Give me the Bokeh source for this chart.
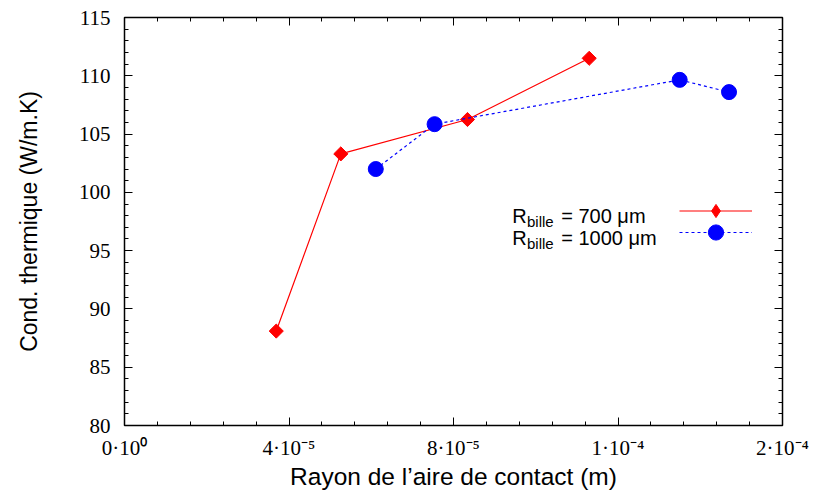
import numpy as np
from bokeh.plotting import figure
from bokeh.models import (FixedTicker, LinearAxis, Legend, LegendItem, Label, Range1d,
                          CustomLabelingPolicy)
from bokeh.core.properties import value
from bokeh.embed import file_html
from bokeh.resources import INLINE

# ---- data ----
r700_x = [3.69e-5, 5.26e-5, 8.34e-5, 11.30e-5]
r700_y = [88.1, 103.3, 106.25, 111.5]
r1000_x = [6.11e-5, 7.54e-5, 13.50e-5, 14.70e-5]
r1000_y = [102.0, 105.85, 109.65, 108.6]

x_ticks = [0.0, 4e-5, 8e-5, 1.2e-4, 1.6e-4]
x_tick_labels = ["0·10⁰", "4·10⁻⁵", "8·10⁻⁵", "1·10⁻⁴", "2·10⁻⁴"]
x_minor = [i * 8e-6 for i in range(21)]
y_ticks = [80, 85, 90, 95, 100, 105, 110, 115]
y_minor = list(range(80, 116))

series_names = ["700", "1000"]

p = figure(width=816, height=495, output_backend="svg", toolbar_location=None,
           x_range=Range1d(0, 1.6e-4), y_range=Range1d(80, 115),
           min_border_left=124, min_border_right=34, min_border_top=17, min_border_bottom=70)
p.background_fill_color = "white"
p.border_fill_color = "white"
p.outline_line_color = "black"
p.outline_line_width = 1.5
p.xgrid.visible = False
p.ygrid.visible = False

xt = FixedTicker(ticks=x_ticks, minor_ticks=x_minor)
yt = FixedTicker(ticks=y_ticks, minor_ticks=y_minor)

def style_axis(ax, labels=True):
    ax.axis_line_color = None
    ax.major_tick_in = 8
    ax.major_tick_out = 0
    ax.minor_tick_in = 4
    ax.minor_tick_out = 0
    ax.major_tick_line_color = "black"
    ax.minor_tick_line_color = "black"
    if labels:
        ax.major_label_text_font = "Liberation Serif"
        ax.major_label_text_font_size = "21px"
        ax.major_label_text_color = "black"
        ax.axis_label_text_font = "Liberation Sans"
        ax.axis_label_text_font_style = "normal"
        ax.axis_label_text_color = "black"
    else:
        ax.major_label_text_font_size = "0px"
        ax.major_label_standoff = 0
        ax.major_label_policy = CustomLabelingPolicy(
            code="for (let k = 0; k < indices.size; k++) { indices.unset(k) }\nreturn indices")

xa = p.xaxis[0]
xa.ticker = xt
xa.major_label_overrides = dict(zip(x_ticks, x_tick_labels))
xa.axis_label = "Rayon de l’aire de contact (m)"
style_axis(xa)
xa.axis_label_text_font_size = "24.5px"
xa.major_label_standoff = 10
xa.axis_label_standoff = 0

ya = p.yaxis[0]
ya.ticker = yt
ya.axis_label = "Cond. thermique (W/m.K)"
style_axis(ya)
ya.axis_label_text_font_size = "23px"
ya.major_label_standoff = 14
ya.axis_label_standoff = 34

top = LinearAxis(ticker=xt)
style_axis(top, labels=False)
p.add_layout(top, "above")
right = LinearAxis(ticker=yt)
style_axis(right, labels=False)
p.add_layout(right, "right")

# ---- series ----
l1 = p.line(r700_x, r700_y, line_color="#ff0000", line_width=1.2)
s1 = p.scatter(r700_x, r700_y, marker="square", angle=np.pi / 4, size=10,
               fill_color="#ff0000", line_color="#ff0000")
l2 = p.line(r1000_x, r1000_y, line_color="#0000ff", line_width=1.2, line_dash="3 3")
s2 = p.scatter(r1000_x, r1000_y, marker="circle", size=15,
               fill_color="#0000ff", line_color="#0000ff")
# hidden legend-only twin of the red markers (legend glyphs are never rotated)
s1_key = p.scatter(r700_x, r700_y, marker="diamond", size=10, visible=False,
                   fill_color="#ff0000", line_color="#ff0000")

# ---- legend (text on the left, samples on the right, as in the original) ----
def make_legend(renderers, gh, loc):
    return Legend(items=[LegendItem(label=value(""), renderers=renderers)],
                  location=loc, glyph_width=73, glyph_height=gh, padding=0, margin=0,
                  spacing=0, label_standoff=0, label_width=0, label_height=0,
                  border_line_color=None, background_fill_alpha=0)

p.add_layout(make_legend([l1, s1_key], 33, (555, 198.5)))
p.add_layout(make_legend([l2, s2], 38, (555, 174)))

rows = [(209.3, 204.5), (187.3, 182.5)]
for name, (yb, ys) in zip(series_names, rows):
    p.add_layout(Label(x=387.7, y=yb, x_units="screen", y_units="screen", text="R",
                       text_font="Liberation Sans", text_font_size="20px",
                       text_baseline="alphabetic", text_color="black"))
    p.add_layout(Label(x=402.5, y=ys, x_units="screen", y_units="screen", text="bille",
                       text_font="Liberation Sans", text_font_size="15px",
                       text_baseline="alphabetic", text_color="black"))
    p.add_layout(Label(x=436.7, y=yb, x_units="screen", y_units="screen",
                       text="= " + name + " μm",
                       text_font="Liberation Sans", text_font_size="20px",
                       text_baseline="alphabetic", text_color="black"))

open("out.html", "w").write(file_html(p, INLINE))
